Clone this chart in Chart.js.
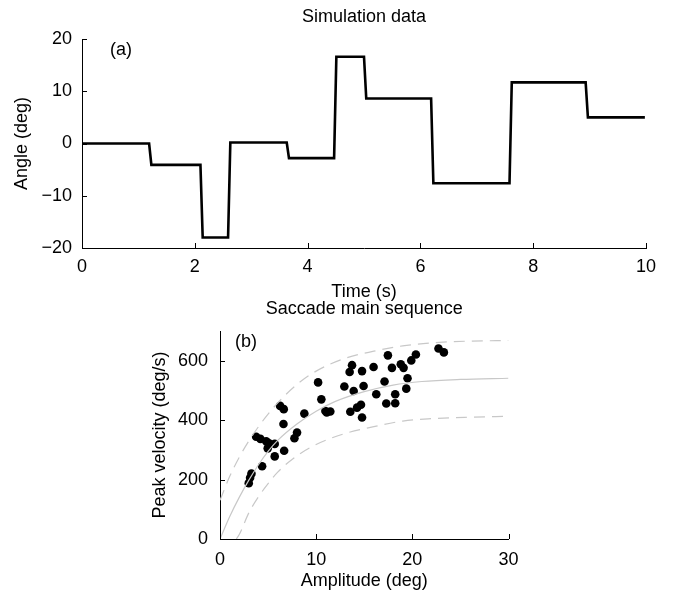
<!DOCTYPE html>
<html>
<head>
<meta charset="utf-8">
<title>Simulation data / Saccade main sequence</title>
<script src="https://cdn.jsdelivr.net/npm/chart.js@4/dist/chart.umd.min.js"></script>
<style>
  body { margin: 0; background: #fff; }
  #wrap { position: relative; width: 673px; height: 598px; }
  canvas { position: absolute; left: 0; }
  #top { top: 0; }
  #bottom { top: 300px; }
</style>
</head>
<body>
<div id="wrap">
  <canvas id="top" width="673" height="305"></canvas>
  <canvas id="bottom" width="673" height="298"></canvas>
</div>
<script>
// (a) simulated eye angle: fixation levels and saccade onset/landing times
const fixLevels = [0.0, -4.1, -18.0, 0.2, -2.8, 16.6, 8.6, -7.6, 11.7, 5.0];
const saccOnset = [1.19, 2.10, 2.59, 3.63, 4.47, 5.00, 6.19, 7.58, 8.93];
const saccLand = [1.23, 2.14, 2.63, 3.67, 4.51, 5.04, 6.23, 7.62, 8.97];
const simStart = 0;
const simEnd = 9.98;

// (b) main sequence: amplitude (deg) vs peak velocity (deg/s)
const amplitude = [2.99, 3.13, 3.27, 4.38, 3.76, 4.2, 4.8, 4.96, 5.1, 5.69, 5.69, 6.67, 6.6, 6.25, 6.63,
  7.74, 8.01, 8.77, 10.2, 10.54, 10.96, 11.1, 11.47, 12.93, 13.9, 14.93, 13.48, 13.73, 14.77, 15.97,
  17.46, 17.88, 18.8, 13.55, 14.25, 14.66, 14.77, 16.25, 17.11, 17.29, 18.22, 18.22, 19.09, 19.89,
  20.37, 22.72, 23.28, 19.5, 19.37];
const peakVel = [188, 206, 220, 245, 344, 337, 329, 305, 322, 320, 278, 297, 387, 448, 437,
  339, 358, 422, 527, 470, 431, 426, 429, 513, 498, 515, 562, 585, 565, 579,
  618, 576, 588, 428, 442, 452, 409, 487, 530, 456, 487, 457, 576, 601,
  621, 641, 628, 541, 506];

// fitted main sequence curve and its bounds
const fitAmp = [0, 1, 2, 3, 4, 5, 6, 8, 10, 12, 15, 18, 21, 25, 30];
const fitVel = [0, 75, 140, 198, 250, 295, 332, 387, 430, 463, 496, 518, 530, 537, 541];
const upperAmp = [0, 1, 2, 3, 4, 5, 6, 8, 10, 13, 16, 19, 22, 26, 30];
const upperVel = [130, 210, 275, 330, 378, 420, 458, 520, 565, 608, 632, 650, 660, 666, 668];
const lowerAmp = [1.7, 2, 3, 4, 5, 6, 8, 10, 13, 16, 19, 22, 26, 30];
const lowerVel = [0, 15, 88, 142, 186, 225, 280, 318, 355, 378, 397, 405, 410, 413];

const FONT = "'Liberation Sans', Arial, Helvetica, sans-serif";
const FS = 18;
Chart.defaults.font.family = FONT;
Chart.defaults.color = '#000';

function stepPoints() {
  const pts = [{ x: simStart, y: fixLevels[0] }];
  for (let i = 0; i < saccOnset.length; i++) {
    pts.push({ x: saccOnset[i], y: fixLevels[i] });
    pts.push({ x: saccLand[i], y: fixLevels[i + 1] });
  }
  pts.push({ x: simEnd, y: fixLevels[fixLevels.length - 1] });
  return pts;
}

function pairs(xs, ys) {
  return xs.map((x, i) => ({ x: x, y: ys[i] }));
}

// small inward tick marks plus title and panel letter, matlab style
const panelDeco = {
  id: 'panelDeco',
  afterDraw(chart, args, opts) {
    const ctx = chart.ctx;
    const area = chart.chartArea;
    const xs = chart.scales.x;
    const ys = chart.scales.y;
    ctx.save();
    ctx.strokeStyle = '#000';
    ctx.lineWidth = 1;
    ctx.beginPath();
    xs.ticks.forEach(t => {
      const px = Math.round(xs.getPixelForValue(t.value)) + 0.5;
      ctx.moveTo(px, area.bottom);
      ctx.lineTo(px, area.bottom - 5);
    });
    ys.ticks.forEach(t => {
      const py = Math.round(ys.getPixelForValue(t.value)) + 0.5;
      ctx.moveTo(area.left, py);
      ctx.lineTo(area.left + 5, py);
    });
    ctx.stroke();
    ctx.fillStyle = '#000';
    ctx.textBaseline = 'middle';
    ctx.font = FS + 'px ' + FONT;
    ctx.textAlign = 'center';
    ctx.fillText(opts.title, (area.left + area.right) / 2, opts.titleY);
    ctx.textAlign = 'left';
    ctx.fillText(opts.letter, area.left + opts.letterDx, area.top + opts.letterDy);
    ctx.restore();
  }
};

function axisOpts(min, max, step, title, fixed, titlePad, tickPad) {
  return {
    type: 'linear',
    min: min,
    max: max,
    grid: { display: false, drawTicks: false },
    border: { display: true, color: '#000', width: 1 },
    ticks: {
      stepSize: step,
      includeBounds: false,
      padding: tickPad,
      font: { size: FS },
      color: '#000',
      callback: v => (v < 0 ? '\u2212' + Math.abs(v) : String(v))
    },
    title: { display: true, text: title, font: { size: FS }, color: '#000', padding: titlePad },
    afterFit(scale) {
      if (scale.isHorizontal()) scale.height = fixed; else scale.width = fixed;
    }
  };
}

new Chart(document.getElementById('top'), {
  type: 'scatter',
  data: {
    datasets: [{
      data: stepPoints(),
      showLine: true,
      borderColor: '#000',
      borderWidth: 2.6,
      pointRadius: 0,
      tension: 0
    }]
  },
  options: {
    responsive: false,
    animation: false,
    devicePixelRatio: 1,
    layout: { padding: { left: 0, right: 27, top: 39, bottom: 0 } },
    plugins: {
      legend: { display: false },
      tooltip: { enabled: false },
      panelDeco: { title: 'Simulation data', titleY: 17, letter: '(a)', letterDx: 28, letterDy: 11 }
    },
    scales: {
      x: axisOpts(0, 10, 2, 'Time (s)', 57, { top: 0, bottom: 2 }, 8),
      y: axisOpts(-20, 20, 10, 'Angle (deg)', 82, { top: 11, bottom: 0 }, 10)
    }
  },
  plugins: [panelDeco]
});

const curveStyle = {
  showLine: true,
  borderColor: '#c8c8c8',
  borderWidth: 1.2,
  pointRadius: 0,
  tension: 0.4,
  cubicInterpolationMode: 'monotone'
};

new Chart(document.getElementById('bottom'), {
  type: 'scatter',
  data: {
    datasets: [
      Object.assign({ data: pairs(upperAmp, upperVel), borderDash: [11, 7] }, curveStyle),
      Object.assign({ data: pairs(fitAmp, fitVel) }, curveStyle),
      Object.assign({ data: pairs(lowerAmp, lowerVel), borderDash: [11, 7] }, curveStyle),
      {
        data: pairs(amplitude, peakVel),
        backgroundColor: '#000',
        borderColor: '#000',
        pointRadius: 4.3,
        borderWidth: 0
      }
    ]
  },
  options: {
    responsive: false,
    animation: false,
    devicePixelRatio: 1,
    layout: { padding: { left: 0, right: 164.5, top: 31, bottom: 0 } },
    plugins: {
      legend: { display: false },
      tooltip: { enabled: false },
      panelDeco: { title: 'Saccade main sequence', titleY: 9.5, letter: '(b)', letterDx: 15, letterDy: 11 }
    },
    scales: {
      x: axisOpts(0, 30, 10, 'Amplitude (deg)', 59, { top: 0, bottom: 6 }, 10),
      y: axisOpts(0, 700, 200, 'Peak velocity (deg/s)', 220, { top: 149, bottom: 0 }, 12)
    }
  },
  plugins: [panelDeco]
});
</script>
</body>
</html>
